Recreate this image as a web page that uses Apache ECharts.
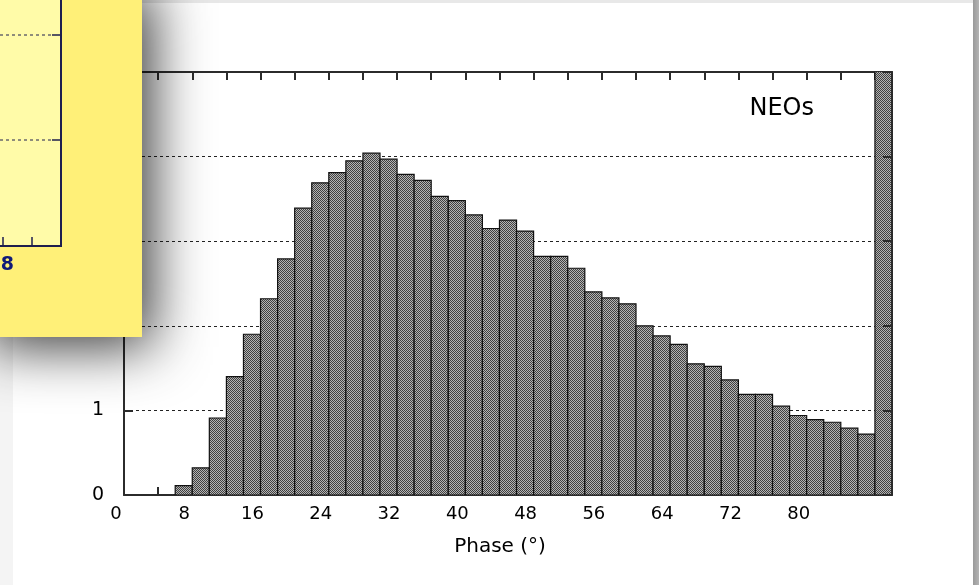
<!DOCTYPE html>
<html lang="en">
<head>
    <meta charset="utf-8">
    <title>NEOs phase histogram</title>
    <script type="text/javascript" src="https://cdn.jsdelivr.net/npm/echarts@6/dist/echarts.min.js"></script>
    <style>
        html, body { margin: 0; padding: 0; background: #fff; }
        #main { width: 979px; height: 585px; }
    </style>
</head>
<body>
<div id="main"></div>
<script type="text/javascript">
    // histogram bins (phase, degrees) and their heights
    var binStart = [6, 8, 10, 12, 14, 16, 18, 20, 22, 24, 26, 28, 30, 32, 34, 36, 38, 40, 42, 44, 46,
        48, 50, 52, 54, 56, 58, 60, 62, 64, 66, 68, 70, 72, 74, 76, 78, 80, 82, 84, 86, 88];
    var binEnd = [8, 10, 12, 14, 16, 18, 20, 22, 24, 26, 28, 30, 32, 34, 36, 38, 40, 42, 44, 46, 48,
        50, 52, 54, 56, 58, 60, 62, 64, 66, 68, 70, 72, 74, 76, 78, 80, 82, 84, 86, 88, 90];
    var counts = [0.11, 0.32, 0.91, 1.40, 1.90, 2.32, 2.79, 3.39, 3.69, 3.81, 3.95, 4.04, 3.97, 3.79,
        3.72, 3.53, 3.48, 3.31, 3.15, 3.25, 3.12, 2.82, 2.82, 2.68, 2.40, 2.33, 2.26, 2.00, 1.88,
        1.78, 1.55, 1.52, 1.36, 1.19, 1.19, 1.05, 0.94, 0.89, 0.86, 0.79, 0.72, 5.3];
    var xTickLabels = [0, 8, 16, 24, 32, 40, 48, 56, 64, 72, 80];

    var font = 'DejaVu Sans';
    var frame = '#2b2b2b';

    // dithered grey fill like the old bitmap plot
    var pat = document.createElement('canvas');
    pat.width = 2; pat.height = 2;
    var pc = pat.getContext('2d');
    pc.fillStyle = '#b4b4b4'; pc.fillRect(0, 0, 2, 2);
    pc.fillStyle = '#404040'; pc.fillRect(0, 0, 1, 1); pc.fillRect(1, 1, 1, 1);

    var barData = binStart.map(function (s, i) { return [s, binEnd[i], counts[i]]; });

    var myChart = echarts.init(document.getElementById('main'));

    var axisLine = { show: true, onZero: false, lineStyle: { color: frame, width: 2 } };
    var inTick = function (len) {
        return { inside: true, length: len, lineStyle: { color: frame, width: 2 } };
    };

    var option = {
        animation: false,
        backgroundColor: '#fff',
        grid: { left: 124, right: 87, top: 72, bottom: 90 },
        title: {
            text: 'NEOs', right: 160, top: 92,
            textStyle: { fontFamily: font, fontSize: 24, fontWeight: 'normal', color: '#000' }
        },
        xAxis: [{
            type: 'value', position: 'bottom', min: 0, max: 90, interval: 4,
            name: 'Phase (°)', nameLocation: 'middle', nameGap: 42,
            nameTextStyle: { fontFamily: font, fontSize: 20, color: '#000', padding: [0, 16, 0, 0] },
            axisLine: axisLine,
            axisTick: inTick(8),
            axisLabel: {
                margin: 10, fontFamily: font, fontSize: 18, color: '#000', padding: [0, 16, 0, 0],
                formatter: function (v) { return xTickLabels.indexOf(v) >= 0 ? String(v) : ''; }
            },
            splitLine: { show: false }
        }, {
            type: 'value', position: 'top', min: 0, max: 90, interval: 4,
            axisLine: axisLine,
            axisTick: inTick(8),
            axisLabel: { show: false },
            splitLine: { show: false }
        }],
        yAxis: [{
            type: 'value', position: 'left', min: 0, max: 5, interval: 1,
            axisLine: axisLine,
            axisTick: inTick(9),
            axisLabel: { margin: 20, fontFamily: font, fontSize: 19, color: '#000' },
            splitLine: { show: true, lineStyle: { color: '#222', width: 1, type: [3, 3] } }
        }, {
            type: 'value', position: 'right', min: 0, max: 5, interval: 1, z: 5,
            axisLine: axisLine,
            axisTick: inTick(9),
            axisLabel: { show: false },
            splitLine: { show: false }
        }],
        series: [{
            type: 'custom',
            clip: true,
            xAxisIndex: 0, yAxisIndex: 0,
            data: barData,
            renderItem: function (params, api) {
                var p0 = api.coord([api.value(0), api.value(2)]);
                var p1 = api.coord([api.value(1), 0]);
                return {
                    type: 'rect',
                    shape: { x: p0[0], y: p0[1], width: p1[0] - p0[0], height: p1[1] - p0[1] },
                    style: { fill: { image: pat, repeat: 'repeat' }, stroke: '#111', lineWidth: 1.2 }
                };
            }
        }],
        graphic: [
            // slide border
            { type: 'rect', z: -10, shape: { x: 0, y: 0, width: 979, height: 3 }, style: { fill: '#e8e8e8' } },
            { type: 'rect', z: -10, shape: { x: 0, y: 0, width: 13, height: 585 }, style: { fill: '#f4f4f4' } },
            {
                type: 'rect', z: -10, shape: { x: 973, y: 0, width: 6, height: 585 },
                style: {
                    fill: new echarts.graphic.LinearGradient(0, 0, 1, 0, [
                        { offset: 0, color: '#9a9a9a' }, { offset: 1, color: '#b4b4b4' }])
                }
            },
            // overlapping yellow panel from the previous figure
            {
                type: 'rect', z: 100, shape: { x: -20, y: -20, width: 162, height: 357 },
                style: {
                    fill: '#fff078', shadowBlur: 55, shadowOffsetX: 10, shadowOffsetY: 10,
                    shadowColor: 'rgba(0,0,0,0.78)'
                }
            },
            { type: 'rect', z: 101, shape: { x: 0, y: 0, width: 61, height: 246 }, style: { fill: '#fffba8' } },
            { type: 'line', z: 102, shape: { x1: 61, y1: 0, x2: 61, y2: 246 }, style: { stroke: '#1e1e4e', lineWidth: 2 } },
            { type: 'line', z: 102, shape: { x1: 0, y1: 246, x2: 62, y2: 246 }, style: { stroke: '#1e1e4e', lineWidth: 2 } },
            { type: 'line', z: 102, shape: { x1: 0, y1: 35, x2: 52, y2: 35 }, style: { stroke: '#1e1e4e', lineWidth: 1, lineDash: [3, 3] } },
            { type: 'line', z: 102, shape: { x1: 0, y1: 140, x2: 52, y2: 140 }, style: { stroke: '#1e1e4e', lineWidth: 1, lineDash: [3, 3] } },
            { type: 'line', z: 102, shape: { x1: 52, y1: 35, x2: 61, y2: 35 }, style: { stroke: '#1e1e4e', lineWidth: 1.5 } },
            { type: 'line', z: 102, shape: { x1: 52, y1: 140, x2: 61, y2: 140 }, style: { stroke: '#1e1e4e', lineWidth: 1.5 } },
            { type: 'line', z: 102, shape: { x1: 3, y1: 237, x2: 3, y2: 246 }, style: { stroke: '#1e1e4e', lineWidth: 1.5 } },
            { type: 'line', z: 102, shape: { x1: 32, y1: 237, x2: 32, y2: 246 }, style: { stroke: '#1e1e4e', lineWidth: 1.5 } },
            {
                type: 'text', z: 102, x: 14, y: 265,
                style: {
                    text: '48', fill: '#101a78', font: 'bold 19px "DejaVu Sans"',
                    textAlign: 'right', textVerticalAlign: 'middle'
                }
            }
        ]
    };

    myChart.setOption(option);
</script>
</body>
</html>
